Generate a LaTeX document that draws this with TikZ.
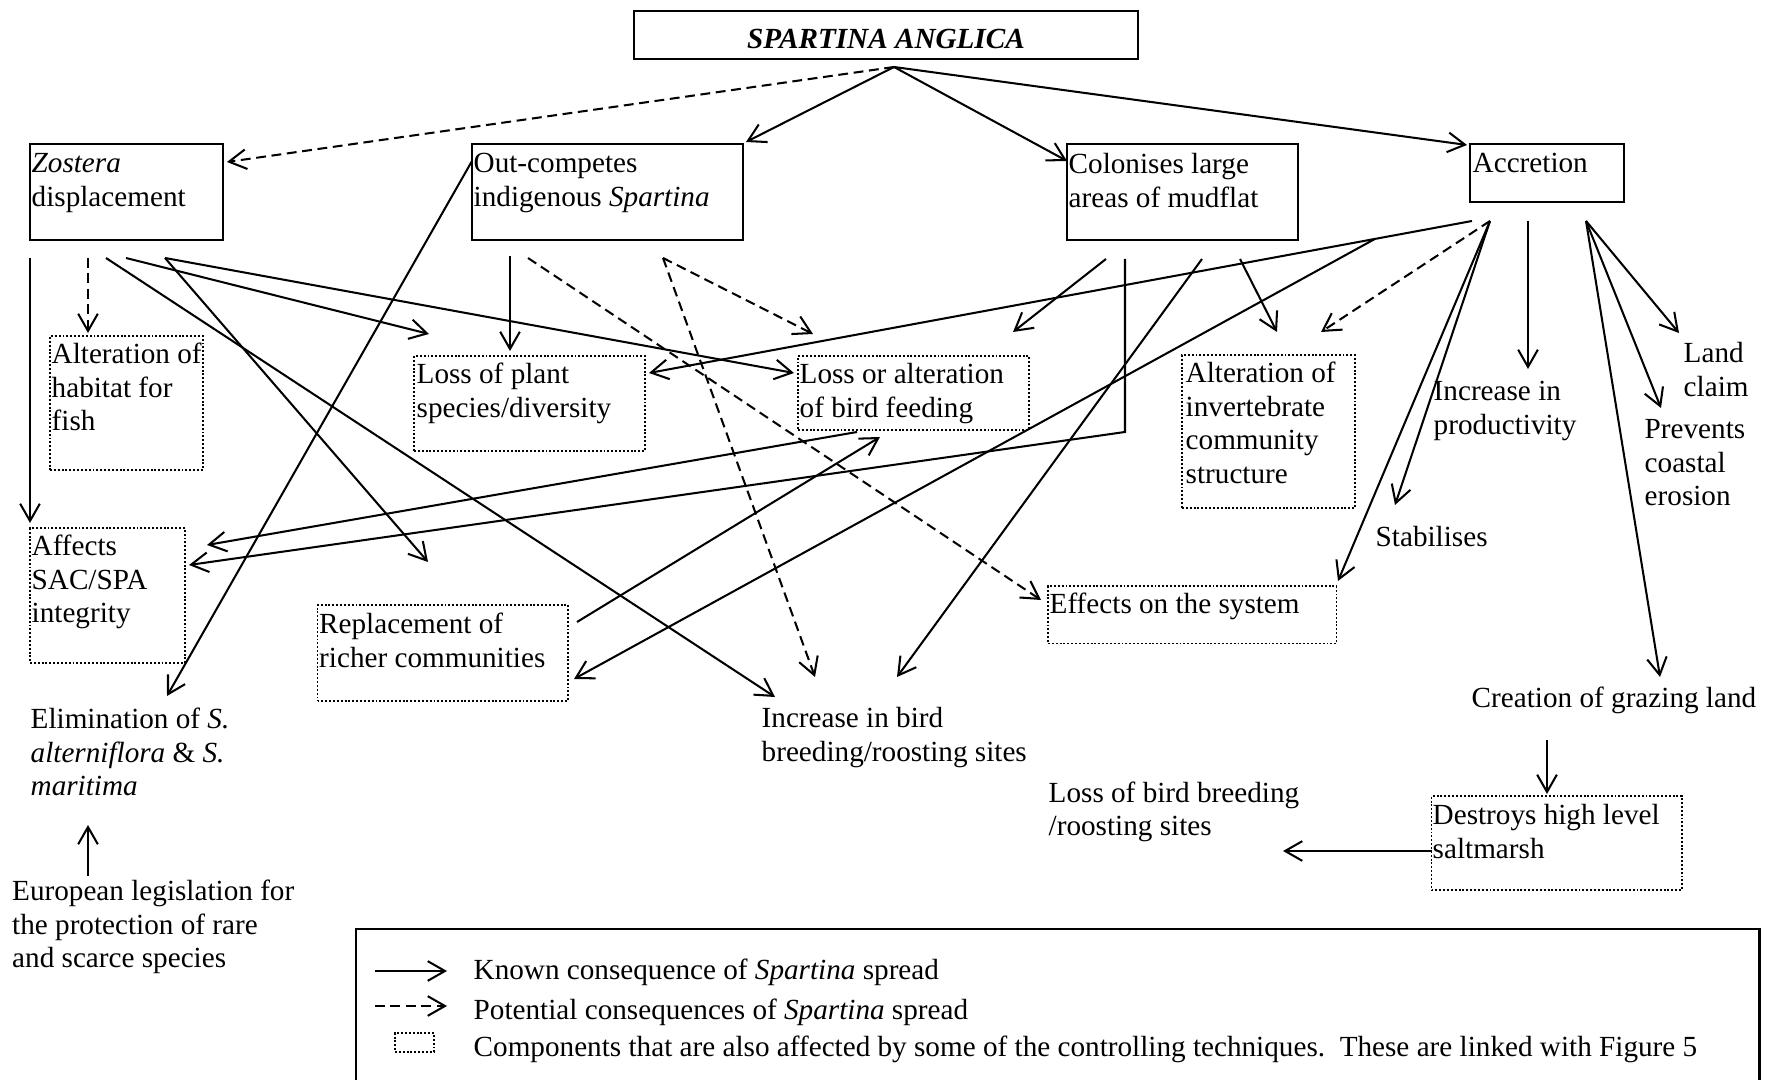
\documentclass[tikz,border=0pt]{standalone}
\usepackage{fontspec}
\setmainfont{Liberation Serif}
\usetikzlibrary{arrows.meta,fit,calc}
\begin{document}
\begin{tikzpicture}[x=0.01cm,y=-0.01cm,
  every node/.style={font=\fontsize{8.3}{9.53}\selectfont},
  >={Straight Barb[length=4.9pt,width=5.6pt]},
  solidbox/.style={draw, line width=0.7pt, inner sep=0pt},
  dotbox/.style={draw, line width=0.55pt, dash pattern=on 0.55pt off 0.55pt, inner sep=0pt},
  txt/.style={anchor=north west, inner sep=0pt, align=left},
  conn/.style={->, line width=0.58pt},
  pconn/.style={conn, dash pattern=on 2.8pt off 1.6pt},
  plain/.style={line width=0.58pt}]
\useasboundingbox (0,0) rectangle (1767,1080);
\clip (0,0) rectangle (1767,1080);

% ---------- boxes ----------
\node[solidbox, fit={(634,11) (1138,59)}] (sa) {};
\node[solidbox, fit={(30,144) (223,240)}] (zos) {};
\node[solidbox, fit={(472,144) (743,240)}] (out) {};
\node[solidbox, fit={(1067,144) (1298,240)}] (col) {};
\node[solidbox, fit={(1470,144) (1624,202)}] (acc) {};
\node[dotbox, fit={(50,336) (203,470)}] (alt) {};
\node[dotbox, fit={(414,356) (645,451)}] (lp) {};
\node[dotbox, fit={(798,356) (1029,430)}] (lbf) {};
\node[dotbox, fit={(1182,355) (1355,508)}] (inv) {};
\node[dotbox, fit={(30,528) (185,663)}] (aff) {};
\node[dotbox, fit={(317.5,605) (568,701)}] (rep) {};
\node[dotbox, fit={(1048,586) (1336.5,643.5)}] (eff) {};
\node[dotbox, fit={(1431.5,796) (1682,890)}] (des) {};

% ---------- texts ----------
\node[anchor=base, inner sep=0pt, font=\fontsize{8.3}{9.53}\selectfont\bfseries\itshape] (satxt) at (886,49) {SPARTINA ANGLICA};
\node[txt] (zost) at (31,148.6) {\strut\textit{Zostera}\\displacement};
\node[txt] (outt) at (473,148.6) {\strut Out-competes\\indigenous \textit{Spartina}};
\node[txt] (colt) at (1068,149.6) {\strut Colonises large\\areas of mudflat};
\node[txt] (acct) at (1472,148.6) {\strut Accretion};
\node[txt] (altt) at (51,339.6) {\strut Alteration of\\habitat for\\fish};
\node[txt] (lpt) at (416,359.6) {\strut Loss of plant\\species/diversity};
\node[txt] (lbft) at (799,359.6) {\strut Loss or alteration\\of bird feeding};
\node[txt] (invt) at (1185,358.6) {\strut Alteration of\\invertebrate\\community\\structure};
\node[txt] (prodt) at (1433,376.6) {\strut Increase in\\productivity};
\node[txt] (landt) at (1683,338.6) {\strut Land\\claim};
\node[txt] (prevt) at (1644,414.6) {\strut Prevents\\coastal\\erosion};
\node[txt] (stabt) at (1375,522.6) {\strut Stabilises};
\node[txt] (afft) at (31,531.6) {\strut Affects\\SAC/SPA\\integrity};
\node[txt] (rept) at (318.5,609.6) {\strut Replacement of\\richer communities};
\node[txt] (elimt) at (30,704.6) {\strut Elimination of \textit{S.}\\\textit{alterniflora} \& \textit{S.}\\\textit{maritima}};
\node[txt] (eurt) at (11.5,876.6) {\strut European legislation for\\the protection of rare\\and scarce species};
\node[txt] (ibbt) at (761,703.6) {\strut Increase in bird\\breeding/roosting sites};
\node[txt] (efft) at (1049,589.6) {\strut Effects on the system};
\node[txt] (cret) at (1471,683.6) {\strut Creation of grazing land};
\node[txt] (losst) at (1048,778) {\strut Loss of bird breeding\\/roosting sites};
\node[txt] (dest) at (1432,800.6) {\strut Destroys high level\\saltmarsh};

% ---------- connector end points ----------
\coordinate (ap) at (894,67);
\coordinate (zosIn) at (227,162);
\coordinate (outIn) at (746,142);
\coordinate (colIn) at (1067,161);
\coordinate (accIn) at (1467,145);

\coordinate (z1) at (30,258);   \coordinate (affIn1) at (30,523);
\coordinate (z2) at (88,258);   \coordinate (altIn) at (88,333);
\coordinate (z3) at (106,258);  \coordinate (ibbIn1) at (775,697);
\coordinate (z4) at (126,258);  \coordinate (lpIn1) at (429,334);
\coordinate (z5) at (165,258);  \coordinate (lbfIn1) at (794,373);
\coordinate (repIn1) at (428,562);

\coordinate (o1) at (472,161);  \coordinate (elimIn) at (167,696);
\coordinate (o2) at (510,256);  \coordinate (lpIn2) at (510,351);
\coordinate (o3) at (528,258);  \coordinate (effIn1) at (1041,600);
\coordinate (o4) at (663,258);  \coordinate (lbfIn2) at (813,334);
\coordinate (ibbIn2) at (815,677);

\coordinate (c1) at (1106,259); \coordinate (lbfIn3) at (1013,332);
\coordinate (c2) at (1125,259); \coordinate (cbend) at (1125,432);
\coordinate (affIn2) at (189,565);
\coordinate (c3) at (1202,259); \coordinate (ibbIn3) at (897,677);
\coordinate (c4) at (1240,259); \coordinate (invIn1) at (1277,332);

\coordinate (a1) at (1472,221); \coordinate (lpIn3) at (649,373);
\coordinate (abr) at ($(a1)!0.1179!(lpIn3)$);
\coordinate (repIn2) at (574,679);
\coordinate (a2) at (1490,221); \coordinate (invIn2) at (1321,332);
\coordinate (stabIn) at (1395,505);
\coordinate (effIn2) at (1338,581);
\coordinate (a3) at (1528,221); \coordinate (prodIn) at (1528,369);
\coordinate (a4) at (1586,221); \coordinate (landIn) at (1679,333);
\coordinate (prevIn) at (1661,408);
\coordinate (creIn) at (1660,677);

\coordinate (lbfOut) at (857,432); \coordinate (affIn3) at (207,545);
\coordinate (repOut) at (577,622); \coordinate (lbfIn4) at (880,437);
\coordinate (creOut) at (1547,740); \coordinate (desIn) at (1547,794);
\coordinate (desOut) at (1432,851); \coordinate (lossIn) at (1283,851);
\coordinate (eurOut) at (88,876); \coordinate (elimIn2) at (88,825);

% ---------- connectors ----------
\draw[pconn] (ap) -- (zosIn);
\draw[conn] (ap) -- (outIn);
\draw[conn] (ap) -- (colIn);
\draw[conn] (ap) -- (accIn);

\draw[conn] (z1) -- (affIn1);
\draw[pconn] (z2) -- (altIn);
\draw[conn] (z3) -- (ibbIn1);
\draw[conn] (z4) -- (lpIn1);
\draw[conn] (z5) -- (lbfIn1);
\draw[conn] (z5) -- (repIn1);

\draw[conn] (o1) -- (elimIn);
\draw[conn] (o2) -- (lpIn2);
\draw[pconn] (o3) -- (effIn1);
\draw[pconn] (o4) -- (lbfIn2);
\draw[pconn] (o4) -- (ibbIn2);

\draw[conn] (c1) -- (lbfIn3);
\draw[conn] (c2) -- (cbend) -- (affIn2);
\draw[conn] (c3) -- (ibbIn3);
\draw[conn] (c4) -- (invIn1);

\draw[conn] (a1) -- (lpIn3);
\draw[conn] (abr) -- (repIn2);
\draw[pconn] (a2) -- (invIn2);
\draw[conn] (a2) -- (stabIn);
\draw[conn] (a2) -- (effIn2);
\draw[conn] (a3) -- (prodIn);
\draw[conn] (a4) -- (landIn);
\draw[conn] (a4) -- (prevIn);
\draw[conn] (a4) -- (creIn);

\draw[conn] (lbfOut) -- (affIn3);
\draw[conn] (repOut) -- (lbfIn4);
\draw[conn] (creOut) -- (desIn);
\draw[conn] (desOut) -- (lossIn);
\draw[conn] (eurOut) -- (elimIn2);

% ---------- legend ----------
\coordinate (lgBL) at (356,1090);
\coordinate (lgTR) at (1759.5,929);
\coordinate (lgBR) at (1759.5,1090);
\draw[line width=0.8pt] (lgBL) |- (lgTR) -- (lgBR);
\coordinate (lk1) at (375,971); \coordinate (lk2) at (447,971);
\coordinate (lp1) at (375,1006); \coordinate (lp2) at (447,1006);
\draw[conn] (lk1) -- (lk2);
\draw[pconn] (lp1) -- (lp2);
\node[dotbox, fit={(395,1033) (434,1052)}] (legbox) {};
\node[txt] (lgt1) at (473,955.6) {\strut Known consequence of \textit{Spartina} spread};
\node[txt] (lgt2) at (473,995.6) {\strut Potential consequences of \textit{Spartina} spread};
\node[txt] (lgt3) at (473,1032.6) {\strut Components that are also affected by some of the controlling techniques.\ \ These are linked with Figure 5};
\end{tikzpicture}
\end{document}
